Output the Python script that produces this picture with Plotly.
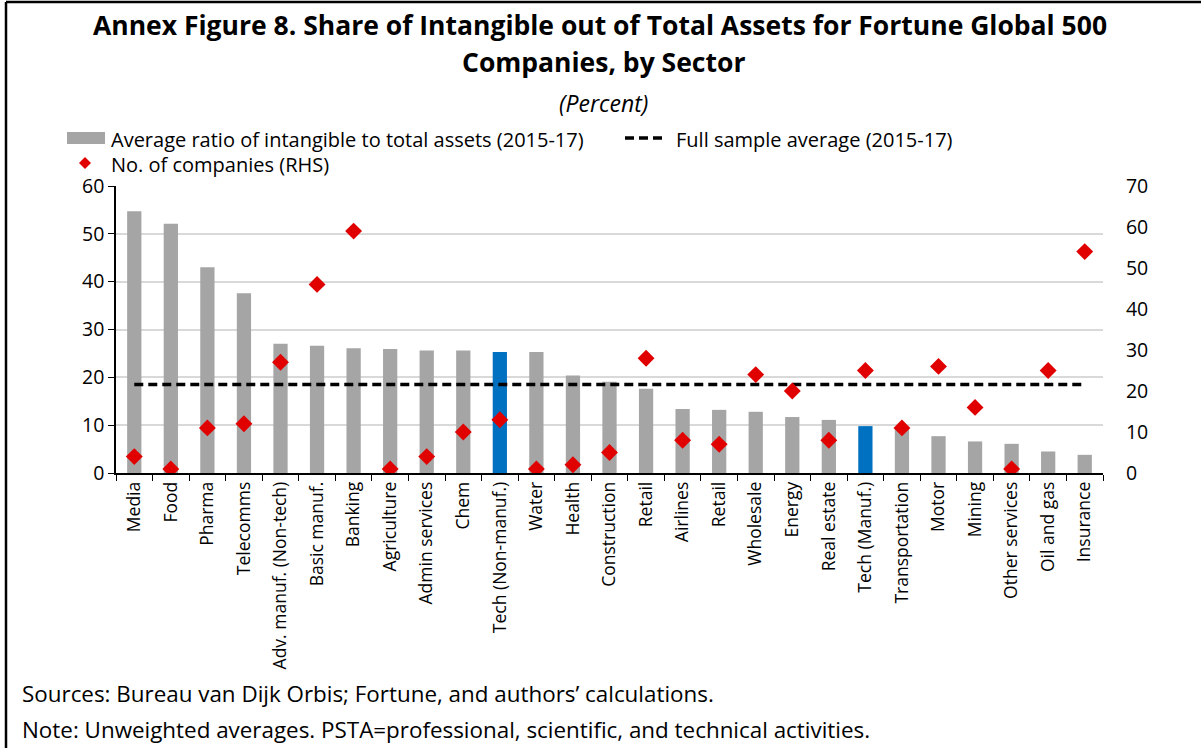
import plotly.graph_objects as go

categories = ["Media", "Food", "Pharma", "Telecomms", "Adv. manuf. (Non-tech)", "Basic manuf.",
              "Banking", "Agriculture", "Admin services", "Chem", "Tech (Non-manuf.)", "Water",
              "Health", "Construction", "Retail", "Airlines", "Retail", "Wholesale", "Energy",
              "Real estate", "Tech (Manuf.)", "Transportation", "Motor", "Mining",
              "Other services", "Oil and gas", "Insurance"]
ratio = [54.7, 52.1, 43.0, 37.6, 27.0, 26.6, 26.1, 25.9, 25.6, 25.6, 25.3, 25.3,
         20.4, 19.1, 17.6, 13.4, 13.2, 12.8, 11.7, 11.1, 9.8, 9.6, 7.7, 6.6, 6.1, 4.5, 3.8]
n_companies = [4, 1, 11, 12, 27, 46, 59, 1, 4, 10, 13, 1, 2, 5, 28, 8, 7, 24, 20, 8, 25,
               11, 26, 16, 1, 25, 54]
full_sample_avg = 18.5
highlight = ["Tech (Non-manuf.)", "Tech (Manuf.)"]
legend_labels = ["Average ratio of intangible to total assets (2015-17)",
                 "Full sample average (2015-17)",
                 "No. of companies (RHS)"]

FONT = "Open Sans"
GRAY = "#A5A5A5"
BLUE = "#0070C0"
RED = "#E00000"

W, H = 1201, 748
L, R, T, B = 116, 1103, 186, 473   # plot area in pixels


def px(xp):
    return (xp - L) / (R - L)


def py(yp):
    return (B - yp) / (B - T)


x = list(range(len(categories)))
colors = [BLUE if c in highlight else GRAY for c in categories]

fig = go.Figure()
fig.add_trace(go.Bar(x=x, y=ratio, marker=dict(color=colors, line=dict(width=0)),
                     width=0.39, showlegend=False))
fig.add_trace(go.Scatter(x=x, y=[full_sample_avg] * len(x), mode="lines",
                         line=dict(color="black", width=3.5, dash="9px,5px"),
                         showlegend=False))
fig.add_trace(go.Scatter(x=x, y=n_companies, mode="markers", yaxis="y2",
                         marker=dict(symbol="diamond", color=RED, size=13),
                         showlegend=False))

fig.update_layout(
    width=W, height=H,
    paper_bgcolor="white", plot_bgcolor="white",
    margin=dict(l=L, r=W - R, t=T, b=H - B, autoexpand=False),
    font=dict(family=FONT, color="black", size=18),
    showlegend=False,
    xaxis=dict(range=[-0.5, len(x) - 0.5], tickmode="array", tickvals=x, ticktext=categories,
               tickangle=-90, ticks="", showgrid=False, showline=True, linecolor="black",
               linewidth=1.5, zeroline=False, tickfont=dict(size=17.5), automargin=False,
               minor=dict(tickmode="linear", tick0=0.5, dtick=1, ticks="outside",
                          ticklen=6, tickcolor="black", tickwidth=1.2, showgrid=False)),
    yaxis=dict(range=[0, 60], dtick=10, showgrid=True, gridcolor="#D9D9D9", gridwidth=1.5,
               showline=True, linecolor="black", linewidth=1.5, ticks="outside", ticklen=6,
               tickcolor="black", zeroline=False, tickfont=dict(size=19.5), automargin=False),
    yaxis2=dict(range=[0, 70], dtick=10, overlaying="y", side="right", showgrid=False,
                showline=False, ticks="outside", ticklen=18, tickcolor="rgba(0,0,0,0)",
                zeroline=False, tickfont=dict(size=19.5), automargin=False),
)

anns = [
    ("<b>Annex Figure 8. Share of Intangible out of Total Assets for Fortune Global 500</b>",
     600, 25, 26.5, "center"),
    ("<b>Companies, by Sector</b>", 603, 62, 26.5, "center"),
    ("<i>(Percent)</i>", 603, 103, 23, "center"),
    (legend_labels[0], 109, 139, 20, "left"),
    (legend_labels[1], 674, 139, 20, "left"),
    (legend_labels[2], 109, 165, 20, "left"),
    ("Sources: Bureau van Dijk Orbis; Fortune, and authors\u2019 calculations.", 20, 693, 22.4, "left"),
    ("Note: Unweighted averages. PSTA=professional, scientific, and technical activities.",
     20, 729, 22.4, "left"),
]
for text, ax, ay, size, anchor in anns:
    fig.add_annotation(text=text, xref="paper", yref="paper", x=px(ax), y=py(ay),
                       xanchor=anchor, yanchor="middle", showarrow=False,
                       font=dict(size=size, family=FONT, color="black"))

# legend swatches
fig.add_shape(type="rect", xref="paper", yref="paper", x0=px(67), x1=px(105),
              y0=py(144), y1=py(132), fillcolor=GRAY, line=dict(width=0))
fig.add_shape(type="line", xref="paper", yref="paper", x0=px(625), x1=px(666),
              y0=py(138), y1=py(138), line=dict(color="black", width=3.5, dash="9px,5px"))
cx, cy, r = 85, 163, 6
fig.add_shape(type="path", xref="paper", yref="paper",
              path=f"M {px(cx - r)} {py(cy)} L {px(cx)} {py(cy - r)} L {px(cx + r)} {py(cy)} "
                   f"L {px(cx)} {py(cy + r)} Z",
              fillcolor=RED, line=dict(width=0))

# figure frame: top and left edges
fig.add_shape(type="line", xref="paper", yref="paper",
              x0=px(6), x1=px(W), y0=py(2), y1=py(2), line=dict(color="black", width=2.5))
fig.add_shape(type="line", xref="paper", yref="paper",
              x0=px(6), x1=px(6), y0=py(2), y1=py(H), line=dict(color="black", width=2.5))

fig.write_html("out.html", config={"displayModeBar": False},
               post_script="document.body.style.margin='0';document.body.style.overflow='hidden';")
